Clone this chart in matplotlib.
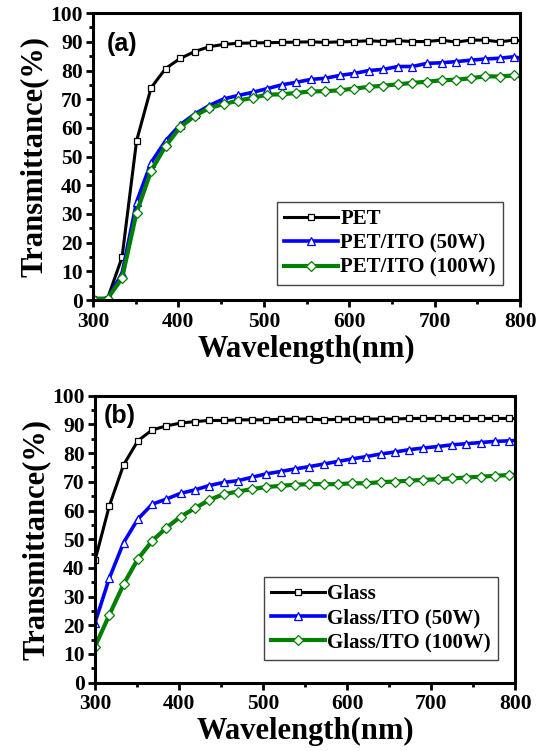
# transmittance spectra, PET and glass substrates with ITO films

import matplotlib
matplotlib.use('Agg')
from matplotlib import pyplot as plt
from matplotlib.ticker import MultipleLocator

wavelength = [300, 317, 334, 351, 368, 385, 402, 419, 436, 453,
              470, 487, 504, 521, 538, 555, 572, 589, 606, 623,
              640, 657, 674, 691, 708, 725, 742, 759, 776, 793, 800]

# (a) PET substrates
pet = [0.5, 0.5, 14.9, 55.5, 74.0, 80.7, 84.2, 86.6, 88.3, 89.1,
       89.5, 89.6, 89.7, 89.8, 89.9, 90.0, 89.8, 90.0, 90.1, 90.4,
       90.1, 90.4, 90.1, 90.1, 90.6, 89.9, 90.6, 90.6, 90.0, 90.6, 90.4]
pet_50w = [0.3, 0.5, 9.3, 34.2, 47.9, 55.5, 61.1, 64.8, 67.8, 70.1,
           71.3, 72.4, 73.7, 75.0, 75.9, 76.9, 77.3, 78.3, 79.0, 80.0,
           80.4, 81.4, 81.4, 82.5, 82.7, 83.1, 83.6, 84.0, 84.3, 84.8, 84.3]
pet_100w = [0.5, 0.5, 7.6, 30.5, 45.0, 53.7, 60.2, 64.2, 66.9, 68.3,
            69.5, 70.5, 71.6, 71.7, 72.2, 72.7, 72.8, 73.1, 73.7, 74.3,
            74.7, 75.2, 75.7, 76.1, 76.6, 76.8, 77.3, 78.0, 77.9, 78.3, 78.0]

# (b) glass substrates
glass = [42.6, 61.6, 75.9, 84.3, 88.1, 89.5, 90.5, 91.0, 91.4, 91.4,
         91.6, 91.6, 91.6, 91.8, 91.9, 91.9, 91.6, 91.8, 91.9, 91.9,
         91.9, 91.9, 92.1, 92.1, 92.1, 92.1, 92.1, 92.1, 92.1, 92.1, 92.1]
glass_50w = [20.9, 36.4, 48.8, 57.0, 62.2, 64.0, 66.0, 67.2, 68.7, 69.8,
             70.4, 71.6, 72.8, 73.6, 74.5, 75.3, 76.2, 77.1, 78.0, 78.8,
             79.7, 80.4, 81.2, 81.8, 82.3, 82.9, 83.3, 83.7, 84.1, 84.3, 84.4]
glass_100w = [12.6, 23.6, 34.3, 43.1, 49.4, 54.0, 57.9, 60.8, 63.7, 65.7,
              66.6, 67.5, 68.2, 68.6, 69.0, 69.2, 69.2, 69.2, 69.5, 69.5,
              69.9, 70.1, 70.4, 70.7, 70.9, 71.2, 71.5, 71.8, 72.1, 72.4, 72.5]

labels_a = ['PET', 'PET/ITO (50W)', 'PET/ITO (100W)']
labels_b = ['Glass', 'Glass/ITO (50W)', 'Glass/ITO (100W)']

plt.rcParams['font.family'] = ['Liberation Serif', 'DejaVu Serif']
plt.rcParams['font.weight'] = 'bold'

fig = plt.figure(figsize=(5.42, 7.51), dpi=100)
ax1 = fig.add_axes([0.1716, 0.6005, 0.788, 0.382])
ax2 = fig.add_axes([0.1753, 0.0910, 0.775, 0.382])

styles = [('black', 's', 2.2, 5.0), ('#0000ff', '^', 2.6, 5.6),
          ('#008000', 'D', 3.0, 4.8)]


def draw(ax, series, names, tag, tag_xy, leg_xy):
    for y, name, (c, m, lw, ms) in zip(series, names, styles):
        ax.plot(wavelength, y, color=c, lw=lw, marker=m, ms=ms,
                mfc='white', mec=c, mew=0.9, markevery=slice(0, 30),
                label=name)
    ax.set_xlim(300, 800)
    ax.set_ylim(0, 100)
    ax.xaxis.set_major_locator(MultipleLocator(100))
    ax.xaxis.set_minor_locator(MultipleLocator(50))
    ax.yaxis.set_major_locator(MultipleLocator(10))
    ax.yaxis.set_minor_locator(MultipleLocator(5))
    ax.tick_params(which='major', direction='out', length=5, width=2,
                   labelsize=15.5)
    ax.tick_params(axis='x', pad=3.5)
    ax.tick_params(axis='y', pad=2.5)
    ax.tick_params(which='minor', direction='out', length=3, width=2)
    for s in ax.spines.values():
        s.set_linewidth(2.2)
    for t in ax.get_xticklabels() + ax.get_yticklabels():
        t.set_fontweight('bold')
    ax.set_xlabel('Wavelength(nm)', fontsize=22, fontweight='bold',
                  labelpad=2)
    ax.set_ylabel('Transmittance(%)', fontsize=22, fontweight='bold',
                  labelpad=1)
    ax.text(tag_xy[0], tag_xy[1], tag, transform=ax.transAxes, fontsize=18,
            fontweight='bold', family=['Liberation Sans', 'DejaVu Sans'],
            va='top')
    leg = ax.legend(loc='lower right', bbox_to_anchor=leg_xy,
                    fancybox=False, edgecolor='#444444', framealpha=1,
                    handlelength=2.6, handletextpad=0.1,
                    borderpad=0.35, labelspacing=0.2, borderaxespad=0,
                    prop={'weight': 'bold', 'size': 15})
    leg.get_frame().set_linewidth(1.0)


draw(ax1, [pet, pet_50w, pet_100w], labels_a, '(a)',
     (0.032, 0.935), (0.96, 0.052))
draw(ax2, [glass, glass_50w, glass_100w], labels_b, '(b)',
     (0.02, 0.97), (0.96, 0.079))

fig.savefig('out.png', dpi=100)
